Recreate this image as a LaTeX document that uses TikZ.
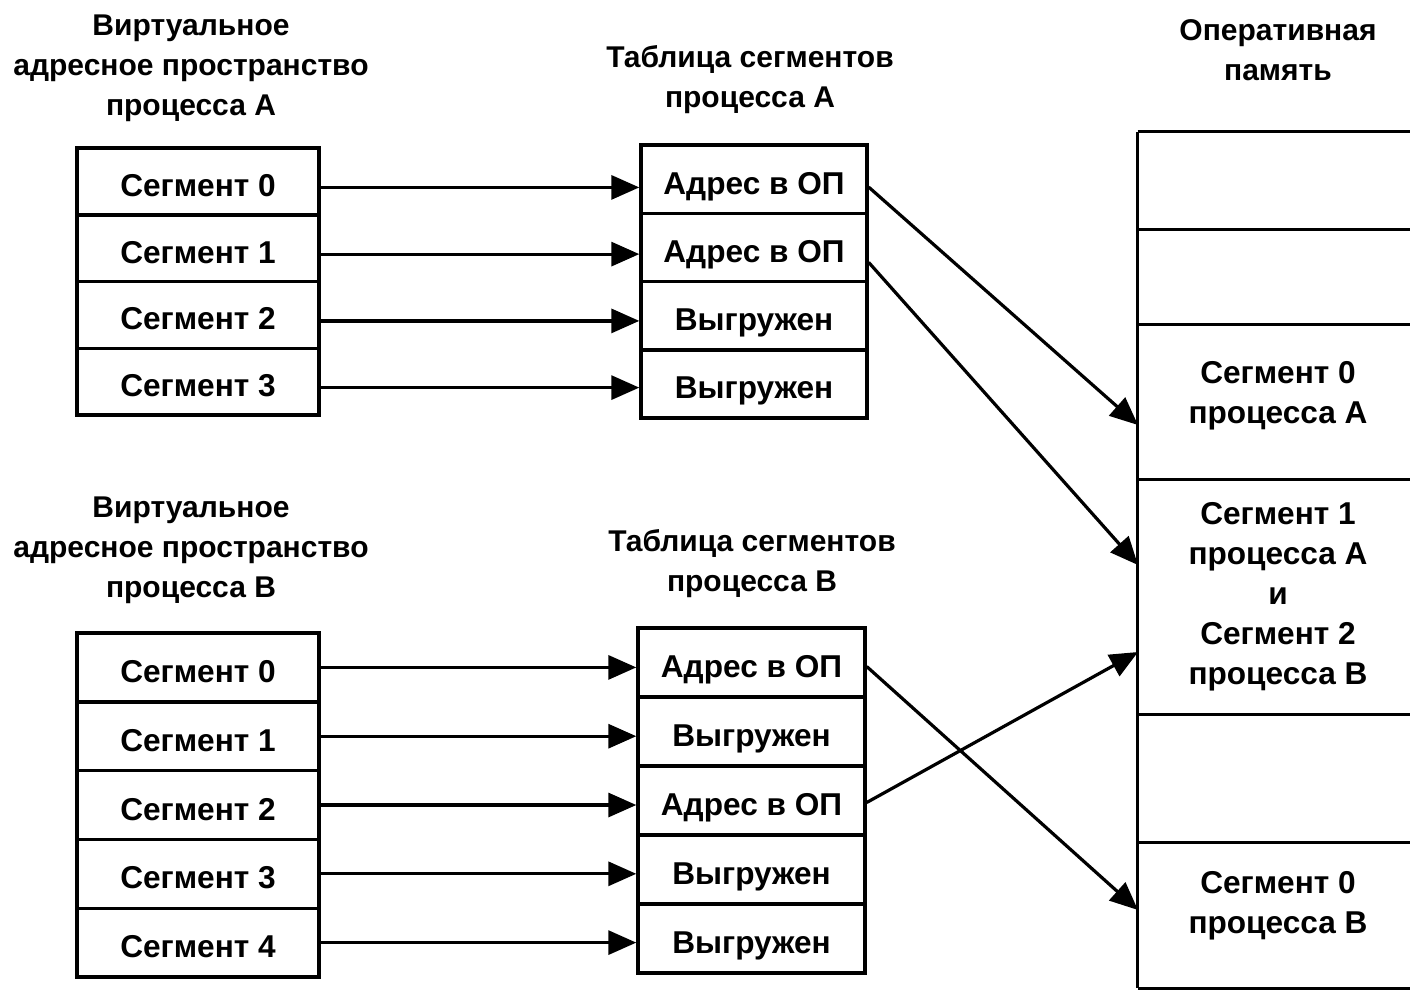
\documentclass[tikz,border=0pt]{standalone}
\usepackage{fontspec}
\setmainfont{Liberation Sans}
\usetikzlibrary{arrows.meta}
\begin{document}
\begin{tikzpicture}[x=0.5pt,y=-0.5pt,
  every node/.style={font=\fontsize{15}{20}\selectfont\bfseries},
  title/.style={align=center, inner sep=0pt},
  cbig/.style={font=\fontsize{15.8}{20}\selectfont\bfseries},
  cellbase/.style={cbig, draw, line width=1.7pt, inner sep=0pt, text height=15pt, text depth=0pt},
  cellA/.style={cellbase, minimum width=121pt, minimum height=33.4pt},
  tcellA/.style={cellbase, minimum width=113pt, minimum height=34.1pt},
  cellB/.style={cellbase, minimum width=121pt, minimum height=34.4pt},
  tcellB/.style={cellbase, minimum width=113.5pt, minimum height=34.5pt},
  mem/.style={minimum width=136pt, inner sep=0pt, align=center},
  arr/.style={line width=1.6pt, -{Triangle[length=14pt,width=12pt]}},
  memline/.style={line width=1.8pt}
]
\useasboundingbox (0,0) rectangle (1410,993);

% titles
\node[title] (ttlA) at (191,68) {Виртуальное\\адресное пространство\\процесса А};
\node[title] (ttlTA) at (750,80) {Таблица сегментов\\процесса А};
\node[title] (ttlM) at (1278,50) {Оперативная\\память};
\node[title] (ttlB) at (191,550) {Виртуальное\\адресное пространство\\процесса В};
\node[title] (ttlTB) at (752,564) {Таблица сегментов\\процесса В};

% process A virtual space
\node[cellA] (a0) at (198,181.4) {Сегмент 0};
\node[cellA] (a1) at (198,248.1) {Сегмент 1};
\node[cellA] (a2) at (198,314.9) {Сегмент 2};
\node[cellA] (a3) at (198,381.6) {Сегмент 3};

% table A
\node[tcellA] (ta0) at (754,179.1) {Адрес в ОП};
\node[tcellA] (ta1) at (754,247.4) {Адрес в ОП};
\node[tcellA] (ta2) at (754,315.6) {Выгружен};
\node[tcellA] (ta3) at (754,383.9) {Выгружен};

% process B virtual space
\node[cellB] (b0) at (198,667.4) {Сегмент 0};
\node[cellB] (b1) at (198,736.2) {Сегмент 1};
\node[cellB] (b2) at (198,805) {Сегмент 2};
\node[cellB] (b3) at (198,873.8) {Сегмент 3};
\node[cellB] (b4) at (198,942.6) {Сегмент 4};

% table B
\node[tcellB] (tb0) at (751.5,662.5) {Адрес в ОП};
\node[tcellB] (tb1) at (751.5,731.5) {Выгружен};
\node[tcellB] (tb2) at (751.5,800.5) {Адрес в ОП};
\node[tcellB] (tb3) at (751.5,869.5) {Выгружен};
\node[tcellB] (tb4) at (751.5,938.5) {Выгружен};

% memory cells
\node[mem, minimum height=49pt] (m1) at (1274,181) {};
\node[mem, minimum height=47.5pt] (m2) at (1274,277.5) {};
\node[mem, minimum height=77.5pt] (m3) at (1274,402.5) {};
\node[mem, minimum height=117.5pt] (m4) at (1274,597.5) {};
\node[mem, minimum height=64pt] (m5) at (1274,779) {};
\node[mem, minimum height=72.5pt] (m6) at (1274,915.5) {};
\node[title, cbig] (m3t) at (1278,396) {Сегмент 0\\процесса А};
\node[title, cbig] (m4t) at (1278,597) {Сегмент 1\\процесса А\\и\\Сегмент 2\\процесса В};
\node[title, cbig] (m6t) at (1278,906) {Сегмент 0\\процесса В};

\foreach \m in {m1,m2,m3,m4,m5,m6}{
  \draw[memline] (\m.north west) -- (\m.north east);
}
\draw[memline] (m6.south west) -- (m6.south east);
\draw[memline] (m1.north west) -- (m6.south west);

% arrow targets on memory edge
\coordinate (pA0) at (1138,425);
\coordinate (pA1) at (1138,565);
\coordinate (pB2) at (1138,652);
\coordinate (pB0) at (1138,910);

% horizontal arrows A
\foreach \i in {0,1,2,3}{
  \draw[arr] ([yshift=-3pt]a\i.east) -- ([yshift=-3pt]a\i.east -| ta\i.west);
}
% horizontal arrows B
\foreach \i in {0,1,2,3,4}{
  \draw[arr] (b\i.east) -- (b\i.east -| tb\i.west);
}

% diagonal arrows
\draw[arr] ([yshift=-4pt]ta0.east) -- (pA0);
\draw[arr] ([yshift=-7.5pt]ta1.east) -- (pA1);
\draw[arr] ([yshift=-2pt]tb0.east) -- (pB0);
\draw[arr] ([yshift=-1pt]tb2.east) -- (pB2);
\end{tikzpicture}
\end{document}
